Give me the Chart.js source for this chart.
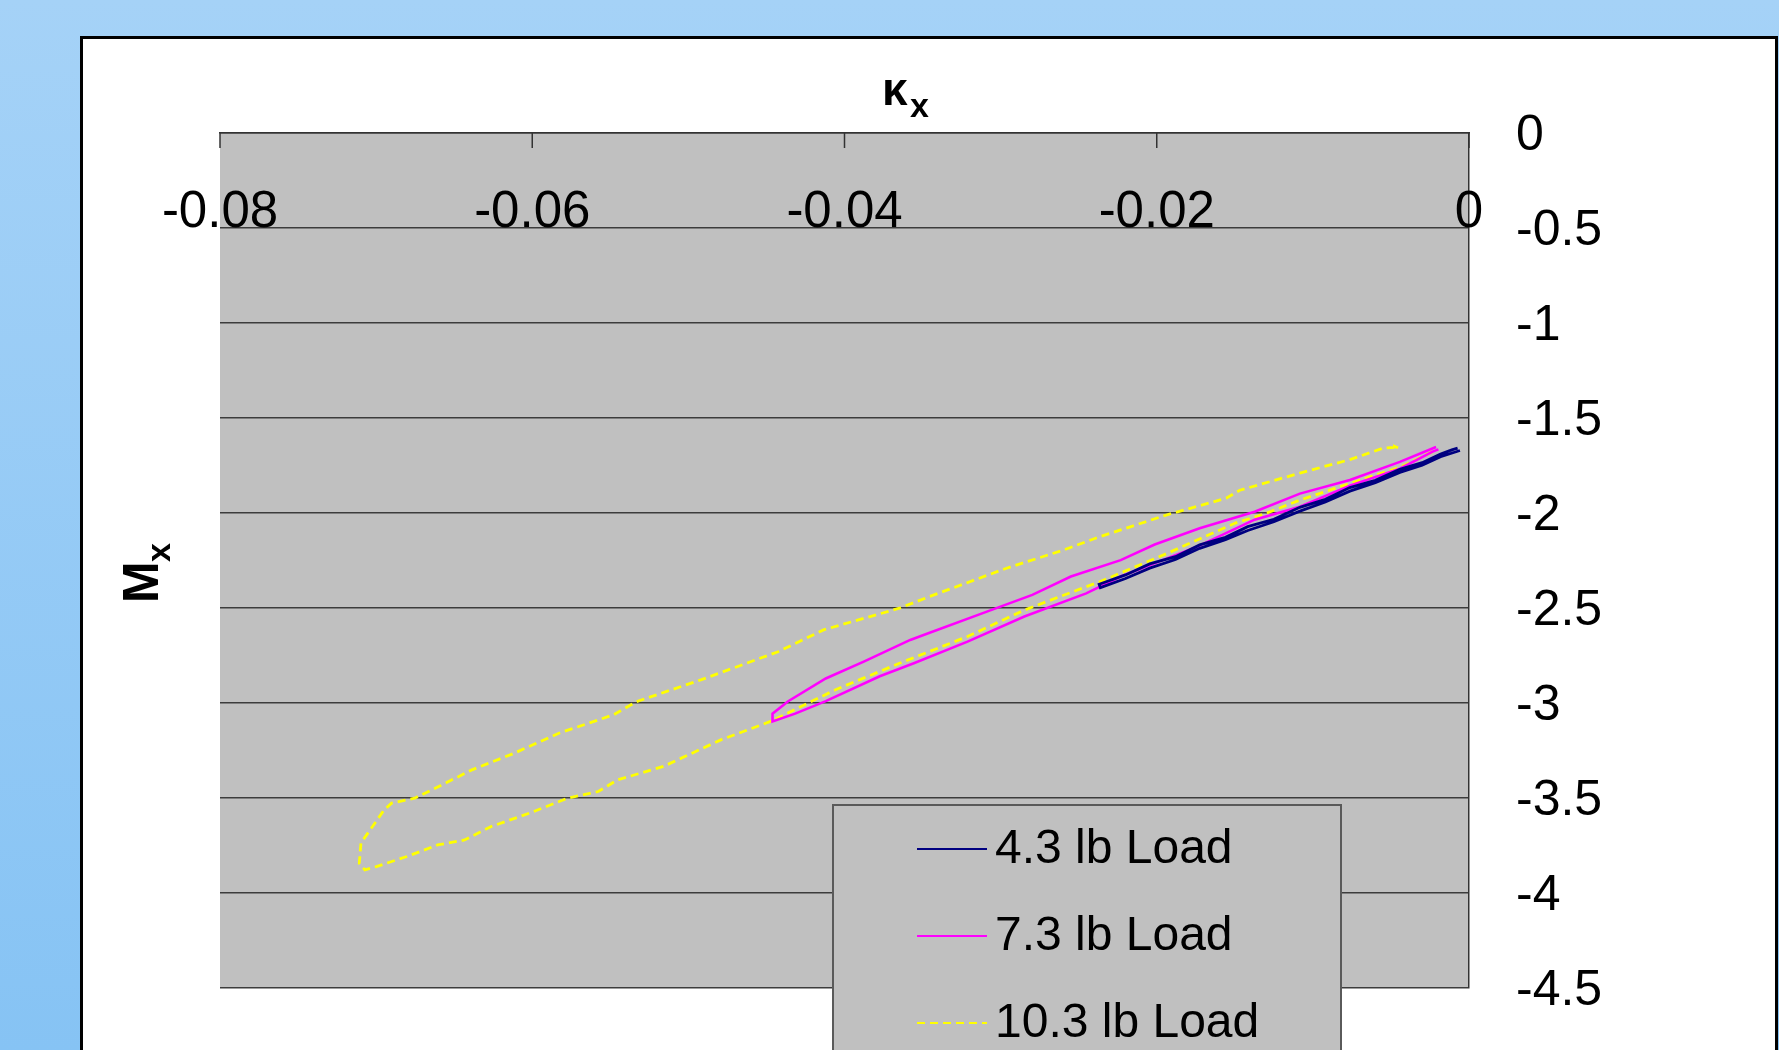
<!DOCTYPE html>
<html>
<head>
<meta charset="utf-8">
<script src="https://cdn.jsdelivr.net/npm/chart.js@4.4.1/dist/chart.umd.min.js"></script>
<style>
  html, body { margin: 0; padding: 0; overflow: hidden; }
  body { width: 1779px; height: 1050px; background: linear-gradient(#a5d2f7, #86c3f4); position: relative; }
  #frame { position: absolute; left: 80px; top: 36px; width: 1692px; height: 1100px; background: #fff; border: 3px solid #000; }
  #chart { position: absolute; left: 0; top: 0; }
</style>
</head>
<body>
<div id="frame"></div>
<canvas id="chart" width="1779" height="1050"></canvas>
<script>
// tick values and labels
const xTicks = [-0.08, -0.06, -0.04, -0.02, 0];
const xTickLabels = ['-0.08', '-0.06', '-0.04', '-0.02', '0'];
const yTicks = [0, -0.5, -1, -1.5, -2, -2.5, -3, -3.5, -4, -4.5];
const yTickLabels = ['0', '-0.5', '-1', '-1.5', '-2', '-2.5', '-3', '-3.5', '-4', '-4.5'];

const seriesNames = ['4.3 lb Load', '7.3 lb Load', '10.3 lb Load'];

// 4.3 lb load  (kappa_x, M_x)
const kx43 = [-0.00073, -0.00110, -0.00182, -0.00300, -0.00443, -0.00600, -0.00763, -0.00920, -0.01083, -0.01250,
  -0.01417, -0.01560, -0.01725, -0.01880, -0.02045, -0.02200, -0.02369,
  -0.02361, -0.02200, -0.02045, -0.01880, -0.01725, -0.01560, -0.01417, -0.01250, -0.01083, -0.00920,
  -0.00763, -0.00600, -0.00443, -0.00300, -0.00182, -0.00058];
const mx43 = [-1.659, -1.668, -1.690, -1.735, -1.770, -1.828, -1.866, -1.928, -1.970, -2.033,
  -2.072, -2.128, -2.168, -2.230, -2.268, -2.326, -2.375,
  -2.393, -2.345, -2.290, -2.245, -2.186, -2.140, -2.092, -2.046, -1.990, -1.942,
  -1.885, -1.840, -1.786, -1.748, -1.704, -1.671];

// 7.3 lb load
const kx73 = [-0.00211, -0.00443, -0.00763, -0.01083, -0.01373, -0.01725, -0.02013, -0.02231, -0.02550, -0.02797,
  -0.03088, -0.03459, -0.03579, -0.03873, -0.04120, -0.04363, -0.04461,
  -0.04461, -0.04316, -0.04120, -0.03774, -0.03556, -0.03212, -0.02848, -0.02452, -0.02231, -0.01740,
  -0.01373, -0.01083, -0.00763, -0.00443, -0.00233, -0.00196];
const mx73 = [-1.653, -1.731, -1.826, -1.898, -1.993, -2.080, -2.166, -2.248, -2.334, -2.431,
  -2.519, -2.632, -2.668, -2.781, -2.871, -2.992, -3.056,
  -3.097, -3.056, -2.990, -2.859, -2.791, -2.677, -2.545, -2.423, -2.334, -2.177,
  -2.035, -1.967, -1.856, -1.767, -1.677, -1.665];

// 10.3 lb load
const kx103 = [-0.00233, -0.00443, -0.00763, -0.01083, -0.01301, -0.01497, -0.01940, -0.02365, -0.02478, -0.02845,
  -0.03212, -0.03648, -0.04057, -0.04474, -0.04792, -0.05160, -0.05455, -0.05577, -0.05773, -0.06018,
  -0.06263, -0.06434, -0.06606, -0.06803, -0.06999, -0.07072,
  -0.07108, -0.07097, -0.07023, -0.06949, -0.06901, -0.06753, -0.06557, -0.06387, -0.06118, -0.05823,
  -0.05479, -0.05333, -0.04916, -0.04425, -0.04131, -0.03648, -0.03459, -0.02967, -0.02598, -0.02365,
  -0.01940, -0.01555, -0.01468, -0.01083, -0.00763, -0.00552, -0.00458, -0.00487, -0.00436];
const mx103 = [-1.677, -1.760, -1.844, -1.932, -2.002, -2.053, -2.215, -2.362, -2.396, -2.510,
  -2.650, -2.791, -2.930, -3.097, -3.194, -3.334, -3.405, -3.466, -3.501, -3.580,
  -3.650, -3.721, -3.747, -3.808, -3.861, -3.878,
  -3.843, -3.736, -3.650, -3.563, -3.527, -3.501, -3.422, -3.352, -3.265, -3.157,
  -3.062, -2.993, -2.877, -2.730, -2.614, -2.501, -2.441, -2.292, -2.195, -2.125,
  -2.011, -1.922, -1.880, -1.790, -1.719, -1.659, -1.653, -1.647, -1.662];

const toPoints = (xs, ys) => xs.map((v, i) => ({ x: v, y: ys[i] }));

const FONT = '"Liberation Sans", Arial, sans-serif';

// plot background, x labels on top, titles and legend box
const decor = {
  id: 'decor',
  beforeDraw(chart) {
    const { ctx, chartArea: a } = chart;
    ctx.save();
    ctx.fillStyle = '#c0c0c0';
    ctx.fillRect(a.left, a.top, a.right - a.left, a.bottom - a.top);
    ctx.restore();
  },
  afterDraw(chart) {
    const { ctx, chartArea: a, scales: { x, y } } = chart;
    ctx.save();

    // x ticks (inside, from the top edge) and labels sitting on the -0.5 line
    ctx.strokeStyle = '#333';
    ctx.lineWidth = 1.5;
    ctx.fillStyle = '#000';
    ctx.font = `51px ${FONT}`;
    ctx.textAlign = 'center';
    ctx.textBaseline = 'alphabetic';
    const labelY = y.getPixelForValue(-0.5) - 1;
    x.ticks.forEach((t, i) => {
      const px = x.getPixelForValue(t.value);
      ctx.beginPath();
      ctx.moveTo(px, a.top);
      ctx.lineTo(px, a.top + 15);
      ctx.stroke();
      ctx.fillText(xTickLabels[i], px, labelY);
    });

    // top title kappa_x
    ctx.textAlign = 'left';
    ctx.font = `bold 46px ${FONT}`;
    ctx.fillText('κ', 882, 105);
    ctx.font = `bold 34px ${FONT}`;
    ctx.fillText('x', 910, 117);

    // side title M_x
    ctx.save();
    ctx.translate(158, 603);
    ctx.rotate(-Math.PI / 2);
    ctx.font = `bold 50px ${FONT}`;
    ctx.fillText('M', 0, 0);
    ctx.font = `bold 34px ${FONT}`;
    ctx.fillText('x', 41, 12);
    ctx.restore();

    // legend
    const lx = 833, ly = 805, lw = 508, lh = 300;
    ctx.fillStyle = '#c0c0c0';
    ctx.fillRect(lx, ly, lw, lh);
    ctx.strokeStyle = '#5a5a5a';
    ctx.lineWidth = 2;
    ctx.strokeRect(lx, ly, lw, lh);
    ctx.font = `48px ${FONT}`;
    ctx.textBaseline = 'middle';
    chart.data.datasets.forEach((ds, i) => {
      const cy = 849 + i * 87;
      ctx.strokeStyle = ds.borderColor;
      ctx.lineWidth = 2;
      ctx.setLineDash(ds.borderDash || []);
      ctx.beginPath();
      ctx.moveTo(917, cy);
      ctx.lineTo(987, cy);
      ctx.stroke();
      ctx.setLineDash([]);
      ctx.fillStyle = '#000';
      ctx.fillText(ds.label, 995, cy + 1);
    });
    ctx.restore();
  }
};

new Chart(document.getElementById('chart'), {
  type: 'scatter',
  data: {
    datasets: [
      { label: seriesNames[0], data: toPoints(kx43, mx43), borderColor: '#000080', borderWidth: 2.8 },
      { label: seriesNames[1], data: toPoints(kx73, mx73), borderColor: '#ff00ff', borderWidth: 2.6 },
      { label: seriesNames[2], data: toPoints(kx103, mx103), borderColor: '#ffff00', borderWidth: 2.8, borderDash: [8, 5] }
    ]
  },
  options: {
    responsive: false,
    animation: false,
    devicePixelRatio: 1,
    showLine: true,
    elements: { point: { radius: 0 }, line: { tension: 0, fill: false } },
    layout: { padding: { left: 220, top: 133, right: 110, bottom: 62 } },
    plugins: { legend: { display: false }, tooltip: { enabled: false } },
    scales: {
      x: {
        type: 'linear',
        position: 'top',
        min: -0.08,
        max: 0,
        afterBuildTicks: s => { s.ticks = xTicks.map(v => ({ value: v })); },
        afterFit: s => { s.height = 0; s.paddingLeft = 0; s.paddingRight = 0; },
        ticks: { display: false },
        grid: { display: false, drawTicks: false },
        border: { display: true, color: '#333', width: 1.5 }
      },
      y: {
        type: 'linear',
        position: 'right',
        min: -4.5,
        max: 0,
        afterBuildTicks: s => { s.ticks = yTicks.map(v => ({ value: v })); },
        afterFit: s => { s.width = 200; s.paddingTop = 0; s.paddingBottom = 0; },
        ticks: {
          padding: 47,
          labelOffset: 3,
          color: '#000',
          font: { family: FONT, size: 50 },
          callback: (v, i) => yTickLabels[i]
        },
        grid: { color: '#3c3c3c', lineWidth: 1.5, drawTicks: false },
        border: { display: true, color: '#333', width: 1.5 }
      }
    }
  },
  plugins: [decor]
});
</script>
</body>
</html>
